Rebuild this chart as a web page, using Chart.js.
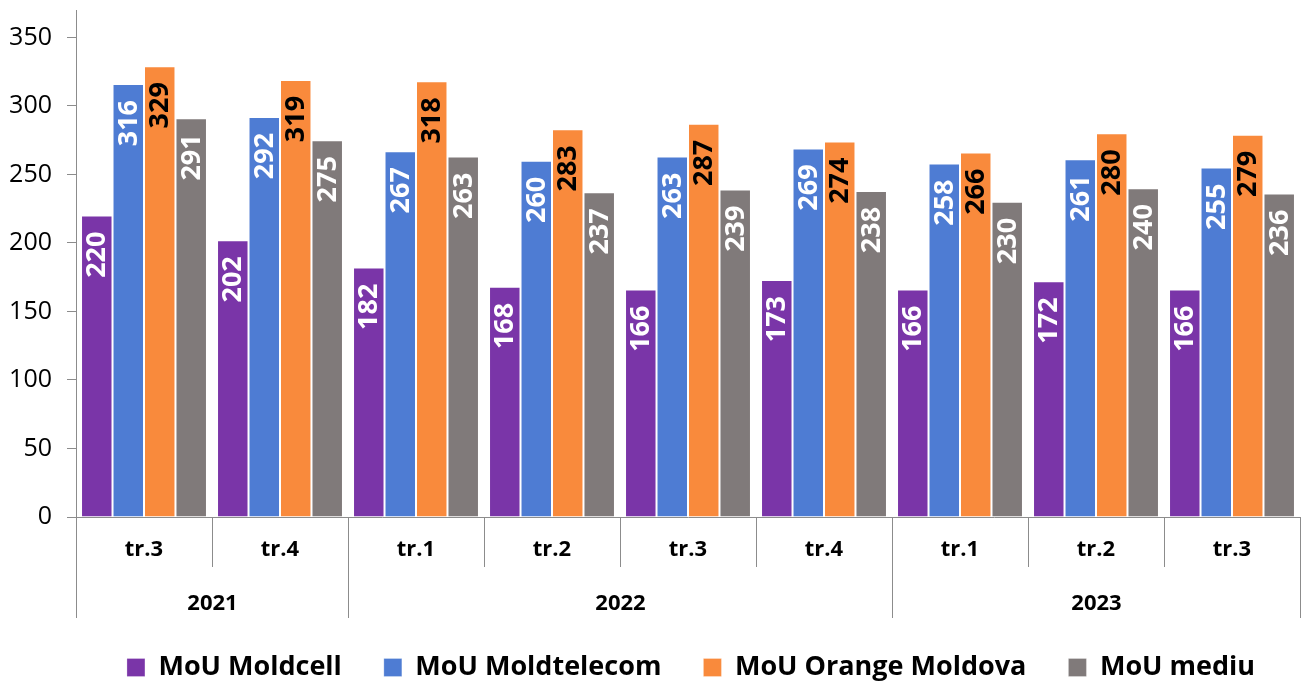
<!DOCTYPE html>
<html>
<head>
<meta charset="utf-8">
<script src="https://cdn.jsdelivr.net/npm/chart.js@4.4.1/dist/chart.umd.min.js"></script>
<style>
  html,body{margin:0;padding:0;background:#fff;}
  #wrap{width:1306px;height:684px;}
</style>
</head>
<body>
<div id="wrap"><canvas id="mou" width="1306" height="684"></canvas></div>
<script>
// quarters and the year each one belongs to
const quarters=["tr.3","tr.4","tr.1","tr.2","tr.3","tr.4","tr.1","tr.2","tr.3"];
const years=["2021","2021","2022","2022","2022","2022","2023","2023","2023"];
const yTicks=[0,50,100,150,200,250,300,350];

const moldcell=[220,202,182,168,166,173,166,172,166];
const moldtelecom=[316,292,267,260,263,269,258,261,255];
const orange=[329,319,318,283,287,274,266,280,279];
const mediu=[291,275,263,237,239,238,230,240,236];

const SERIES=[
  {label:"MoU Moldcell",data:moldcell,color:"#7A35A8",text:"#fff"},
  {label:"MoU Moldtelecom",data:moldtelecom,color:"#4E7CD3",text:"#fff"},
  {label:"MoU Orange Moldova",data:orange,color:"#F98A3C",text:"#000"},
  {label:"MoU mediu",data:mediu,color:"#807A7A",text:"#fff"}
];
const AXIS="#8c8c8c";
const FONT="'Open Sans'";

// rotated value labels inside the top of each bar
const barLabels={
  id:"barLabels",
  afterDatasetsDraw(chart){
    const ctx=chart.ctx;
    ctx.save();
    ctx.font="bold 27px "+FONT;
    ctx.textAlign="right"; ctx.textBaseline="middle";
    chart.data.datasets.forEach((ds,d)=>{
      chart.getDatasetMeta(d).data.forEach((bar,i)=>{
        ctx.save();
        ctx.translate(bar.x+1,bar.y+16);
        ctx.rotate(-Math.PI/2);
        ctx.fillStyle=SERIES[d].text;
        ctx.fillText(String(ds.data[i]),0,0);
        ctx.restore();
      });
    });
    ctx.restore();
  }
};

// separators between quarters / years and the year row
const yearAxis={
  id:"yearAxis",
  afterLayout(chart){
    if(chart.legend){ chart.legend.left+=82; chart.legend.top+=7; chart.legend.bottom+=7; }
  },
  afterDraw(chart){
    const x=chart.scales.x, ctx=chart.ctx, top=chart.chartArea.bottom;
    const edge=i=>Math.round(x.getPixelForValue(i-0.5))+0.5;
    ctx.save();
    ctx.strokeStyle=AXIS; ctx.lineWidth=1;
    for(let i=0;i<=quarters.length;i++){
      const yearEdge=(i===0||i===quarters.length||years[i]!==years[i-1]);
      ctx.beginPath();
      ctx.moveTo(edge(i),top);
      ctx.lineTo(edge(i),top+(yearEdge?101:50));
      ctx.stroke();
    }
    ctx.fillStyle="#000"; ctx.font="bold 22px "+FONT;
    ctx.textAlign="center"; ctx.textBaseline="middle";
    let s=0;
    for(let i=1;i<=years.length;i++){
      if(i===years.length||years[i]!==years[s]){
        ctx.fillText(years[s],(edge(s)+edge(i))/2,top+87);
        s=i;
      }
    }
    ctx.restore();
  }
};

function draw(){
  new Chart(document.getElementById("mou").getContext("2d"),{
    type:"bar",
    data:{
      labels:quarters,
      datasets:SERIES.map(s=>({label:s.label,data:s.data,backgroundColor:s.color,
        borderColor:"rgba(255,255,255,0.35)",borderWidth:{top:1,left:1,right:1,bottom:0},
        categoryPercentage:0.926,barPercentage:1}))
    },
    options:{
      animation:false,responsive:false,maintainAspectRatio:false,
      layout:{padding:{top:10,right:6,left:0,bottom:0}},
      plugins:{
        legend:{position:"bottom",
          labels:{boxWidth:18,boxHeight:18,padding:42,color:"#000",font:{family:"Open Sans",size:27,weight:"bold"}}},
        tooltip:{enabled:false}
      },
      scales:{
        x:{
          grid:{display:false,drawTicks:false},
          border:{display:true,color:AXIS},
          ticks:{color:"#000",padding:20,font:{family:"Open Sans",size:22,weight:"bold"}},
          afterFit(sc){ sc.height=88; }
        },
        y:{
          min:0,max:370,
          grid:{drawOnChartArea:false,drawTicks:true,tickLength:9,color:AXIS},
          border:{display:true,color:AXIS},
          ticks:{color:"#000",padding:15,font:{family:"Open Sans",size:25}},
          afterBuildTicks(sc){ sc.ticks=yTicks.map(v=>({value:v})); },
          afterFit(sc){ sc.width=76; sc.paddingTop=0; sc.paddingBottom=0; }
        }
      }
    },
    plugins:[barLabels,yearAxis]
  });
}
Promise.all([document.fonts.load("bold 27px 'Open Sans'"),document.fonts.load("25px 'Open Sans'")]).then(draw,draw);
</script>
</body>
</html>
